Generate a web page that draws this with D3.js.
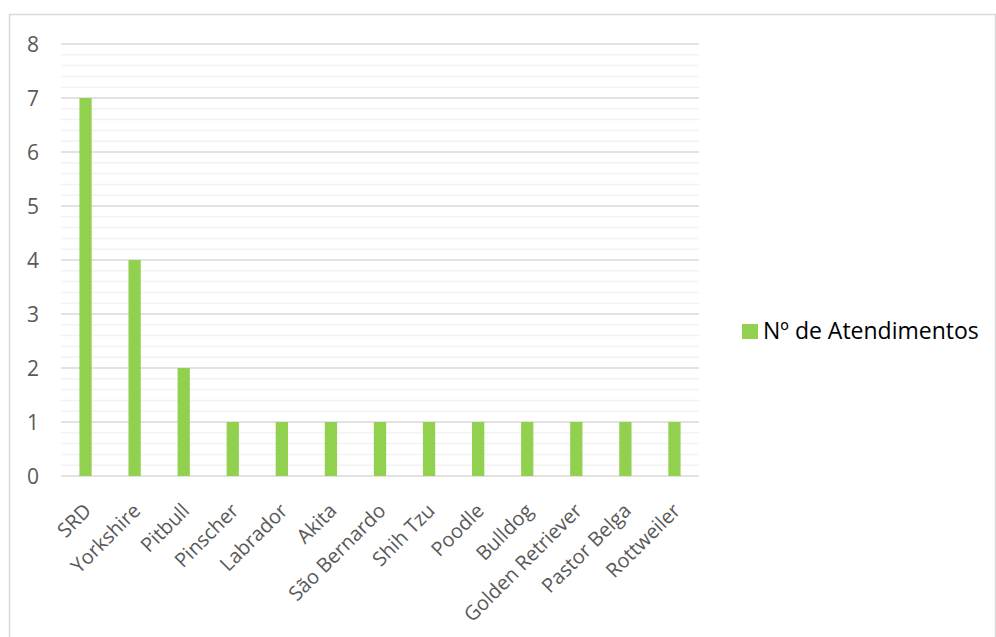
<!DOCTYPE html>
<html>
<head>
<meta charset="utf-8">
<script src="https://cdn.jsdelivr.net/npm/d3@7"></script>
<style>
  body { margin: 0; background: #fff; }
  svg { display: block; font-family: "Open Sans", "Liberation Sans", sans-serif; }
</style>
</head>
<body>
<div id="chart"></div>
<script>
var categories = ["SRD", "Yorkshire", "Pitbull", "Pinscher", "Labrador", "Akita", "São Bernardo",
  "Shih Tzu", "Poodle", "Bulldog", "Golden Retriever", "Pastor Belga", "Rottweiler"];
var atendimentos = [7, 4, 2, 1, 1, 1, 1, 1, 1, 1, 1, 1, 1];
var seriesName = "Nº de Atendimentos";
var yTicks = [0, 1, 2, 3, 4, 5, 6, 7, 8];

var width = 996, height = 637;
var margin = { left: 61, right: 297, top: 44, bottom: 161 };

var svg = d3.select("#chart").append("svg")
  .attr("width", width)
  .attr("height", height);

// outer frame
svg.append("rect")
  .attr("x", 9.5).attr("y", 14.5)
  .attr("width", 986).attr("height", 640)
  .attr("fill", "none").attr("stroke", "#d9d9d9").attr("stroke-width", 1.5);

var x = d3.scaleBand()
  .domain(categories)
  .range([margin.left, width - margin.right])
  .paddingInner(0.75)
  .paddingOuter(0.375);

var y = d3.scaleLinear()
  .domain([0, 8])
  .range([height - margin.bottom, margin.top]);

// minor gridlines
var minor = d3.range(0, 8, 0.2).filter(function(v) { return Math.abs(v - Math.round(v)) > 0.01; });
svg.append("g").selectAll("line")
  .data(minor)
  .enter().append("line")
  .attr("x1", margin.left).attr("x2", width - margin.right)
  .attr("y1", function(d) { return y(d); }).attr("y2", function(d) { return y(d); })
  .attr("stroke", "#f2f2f2").attr("stroke-width", 1.5);

// major gridlines
svg.append("g").selectAll("line")
  .data(yTicks)
  .enter().append("line")
  .attr("x1", margin.left).attr("x2", width - margin.right)
  .attr("y1", function(d) { return y(d); }).attr("y2", function(d) { return y(d); })
  .attr("stroke", "#d9d9d9").attr("stroke-width", 1.5);

// y tick labels
svg.append("g").selectAll("text")
  .data(yTicks)
  .enter().append("text")
  .attr("x", 39)
  .attr("y", function(d) { return y(d); })
  .attr("dy", "0.36em")
  .attr("text-anchor", "end")
  .attr("font-size", 21)
  .attr("fill", "#595959")
  .text(function(d) { return d; });

// bars
svg.append("g").selectAll(".bar")
  .data(atendimentos)
  .enter().append("rect")
  .attr("class", "bar")
  .attr("x", function(d, i) { return x(categories[i]); })
  .attr("y", function(d) { return y(d); })
  .attr("width", x.bandwidth())
  .attr("height", function(d) { return y(0) - y(d); })
  .attr("fill", "#92d050");

// x labels
svg.append("g").selectAll("text")
  .data(categories)
  .enter().append("text")
  .attr("transform", function(d) {
    return "translate(" + (x(d) + x.bandwidth() / 2 + 7) + "," + (y(0) + 36) + ") rotate(-45)";
  })
  .attr("text-anchor", "end")
  .attr("font-size", 20)
  .attr("fill", "#595959")
  .text(function(d) { return d; });

// legend
var legend = svg.append("g").attr("transform", "translate(742,324)");
legend.append("rect")
  .attr("width", 16).attr("height", 15)
  .attr("fill", "#92d050");
legend.append("text")
  .attr("x", 21).attr("y", 15)
  .attr("font-size", 23)
  .attr("fill", "#000")
  .text(seriesName);
</script>
</body>
</html>
